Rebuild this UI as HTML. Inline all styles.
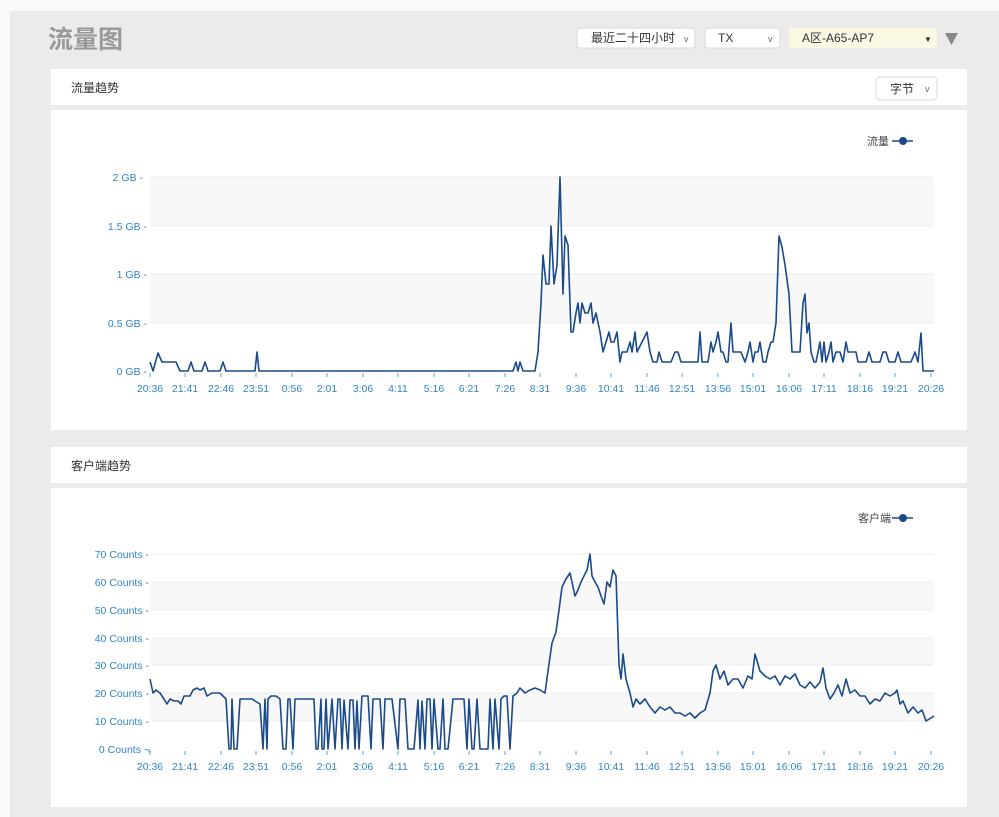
<!DOCTYPE html>
<html><head><meta charset="utf-8"><style>
body{margin:0;width:999px;height:817px;overflow:hidden;background:#fafafa;font-family:"Liberation Sans","Noto Sans CJK SC",sans-serif}
svg{position:absolute;left:0;top:0}
</style></head><body>
<svg width="999" height="817" viewBox="0 0 999 817" xmlns="http://www.w3.org/2000/svg" font-family="Liberation Sans, Noto Sans CJK SC, sans-serif">
<rect x="0" y="0" width="999" height="817" fill="#fafafa"/>
<rect x="10" y="11" width="989" height="806" fill="#ebebeb"/>
<text x="48" y="48" font-size="25" fill="#999" font-weight="bold">流量图</text>
<!-- selects -->
<rect x="577" y="28" width="118" height="20" rx="3" fill="#fff" stroke="#d8d8d8"/>
<text x="591" y="42" font-size="12" fill="#333">最近二十四小时</text><text x="684" y="42" font-size="9" fill="#666">v</text>
<rect x="705" y="28" width="75" height="20" rx="3" fill="#fff" stroke="#d8d8d8"/>
<text x="718" y="42" font-size="12" fill="#333">TX</text><text x="768" y="42" font-size="9" fill="#666">v</text>
<rect x="789" y="28" width="148" height="20" rx="2" fill="#fbf8e4"/>
<text x="802" y="42" font-size="12" fill="#333">A区-A65-AP7</text><text x="924" y="42" font-size="8" fill="#333">▼</text>
<polygon points="945,33 958,33 951.5,45" fill="#888"/>
<!-- card 1 -->
<rect x="51" y="69" width="916" height="36" fill="#fff"/>
<text x="71" y="92" font-size="12" fill="#333">流量趋势</text>
<rect x="876" y="77" width="61" height="23" rx="4" fill="#fff" stroke="#d8d8d8"/>
<text x="890" y="93" font-size="12" fill="#333">字节</text><text x="925" y="92" font-size="9" fill="#666">v</text>
<rect x="51" y="110" width="916" height="320" fill="#fff"/>
<text x="867" y="145" font-size="11" fill="#444">流量</text>
<line x1="892" y1="141" x2="913" y2="141" stroke="#1b4a8a" stroke-width="1.5"/><circle cx="903" cy="141" r="4" fill="#1b4a8a"/>
<rect x="150" y="177" width="784" height="49" fill="#f8f8f8"/>
<rect x="150" y="274" width="784" height="49" fill="#f8f8f8"/>
<g stroke="#ececec"><line x1="150" y1="177" x2="934" y2="177"/><line x1="150" y1="226" x2="934" y2="226"/><line x1="150" y1="274" x2="934" y2="274"/><line x1="150" y1="323" x2="934" y2="323"/></g>
<g font-size="10.5" fill="#2f86c8" text-anchor="end">
<text x="143" y="181">2 GB -</text><text x="147" y="230">1.5 GB -</text><text x="147" y="278">1 GB -</text><text x="147" y="327">0.5 GB -</text><text x="147" y="375">0 GB -</text></g>
<g id="xt1" font-size="10.5" fill="#2f86c8" text-anchor="middle">
<text x="150" y="392">20:36</text><text x="185" y="392">21:41</text><text x="221" y="392">22:46</text><text x="256" y="392">23:51</text><text x="292" y="392">0:56</text><text x="327" y="392">2:01</text><text x="363" y="392">3:06</text><text x="398" y="392">4:11</text><text x="434" y="392">5:16</text><text x="469" y="392">6:21</text><text x="505" y="392">7:26</text><text x="540" y="392">8:31</text><text x="576" y="392">9:36</text><text x="611" y="392">10:41</text><text x="647" y="392">11:46</text><text x="682" y="392">12:51</text><text x="718" y="392">13:56</text><text x="753" y="392">15:01</text><text x="789" y="392">16:06</text><text x="824" y="392">17:11</text><text x="860" y="392">18:16</text><text x="895" y="392">19:21</text><text x="931" y="392">20:26</text></g>
<g stroke="#5aa3d8"><line x1="150" y1="373" x2="150" y2="377"/><line x1="185" y1="373" x2="185" y2="377"/><line x1="221" y1="373" x2="221" y2="377"/><line x1="256" y1="373" x2="256" y2="377"/><line x1="292" y1="373" x2="292" y2="377"/><line x1="327" y1="373" x2="327" y2="377"/><line x1="363" y1="373" x2="363" y2="377"/><line x1="398" y1="373" x2="398" y2="377"/><line x1="434" y1="373" x2="434" y2="377"/><line x1="469" y1="373" x2="469" y2="377"/><line x1="505" y1="373" x2="505" y2="377"/><line x1="540" y1="373" x2="540" y2="377"/><line x1="576" y1="373" x2="576" y2="377"/><line x1="611" y1="373" x2="611" y2="377"/><line x1="647" y1="373" x2="647" y2="377"/><line x1="682" y1="373" x2="682" y2="377"/><line x1="718" y1="373" x2="718" y2="377"/><line x1="753" y1="373" x2="753" y2="377"/><line x1="789" y1="373" x2="789" y2="377"/><line x1="824" y1="373" x2="824" y2="377"/><line x1="860" y1="373" x2="860" y2="377"/><line x1="895" y1="373" x2="895" y2="377"/><line x1="931" y1="373" x2="931" y2="377"/></g>
<polyline fill="none" stroke="#1b4a8a" stroke-width="1.6" stroke-linejoin="round" points="150,362 153,371 158,353 162,362 176,362 180,371 188,371 191,362 194,371 202,371 205,362 208,371 220,371 223,362 226,371 255,371 257,352 259,371 513,371 516,362 518,371 520,362 523,371 535,371 538,352 541,303 543,255 546,284 549,284 551,226 554,284 557,265 560,177 563,294 565,236 568,245 571,332 573,332 576,313 578,303 580,323 582,303 585,313 588,313 591,303 593,323 596,313 600,332 603,352 606,342 609,332 611,342 614,342 617,332 620,362 622,352 627,352 630,342 632,352 635,332 637,352 642,342 647,332 650,352 653,362 657,362 659,352 662,362 671,362 675,352 678,352 681,362 698,362 700,332 702,362 708,362 711,342 713,352 716,342 718,332 721,352 723,352 726,362 728,362 731,323 733,352 741,352 745,362 748,352 750,342 753,362 755,352 758,352 760,342 763,362 766,362 768,352 771,342 773,342 776,323 779,236 782,247 785,265 789,294 792,352 800,352 803,303 805,294 807,333 809,323 811,352 814,362 816,362 820,342 822,362 824,342 826,362 829,352 831,342 833,362 836,352 840,352 843,362 846,342 848,352 856,352 858,362 866,362 869,352 872,362 880,362 883,352 886,352 889,362 895,362 898,352 901,362 911,362 915,352 918,362 921,333 923,371 934,371"/>
<!-- card 2 -->
<rect x="51" y="447" width="916" height="36" fill="#fff"/>
<text x="71" y="470" font-size="12" fill="#333">客户端趋势</text>
<rect x="51" y="488" width="916" height="319" fill="#fff"/>
<text x="858" y="522" font-size="11" fill="#444">客户端</text>
<line x1="892" y1="518" x2="913" y2="518" stroke="#1b4a8a" stroke-width="1.5"/><circle cx="903" cy="518" r="4" fill="#1b4a8a"/>
<rect x="150" y="582" width="784" height="28" fill="#f8f8f8"/>
<rect x="150" y="638" width="784" height="27" fill="#f8f8f8"/>
<rect x="150" y="693" width="784" height="28" fill="#f8f8f8"/>
<g stroke="#ececec"><line x1="150" y1="554" x2="934" y2="554"/><line x1="150" y1="582" x2="934" y2="582"/><line x1="150" y1="610" x2="934" y2="610"/><line x1="150" y1="638" x2="934" y2="638"/><line x1="150" y1="665" x2="934" y2="665"/><line x1="150" y1="693" x2="934" y2="693"/><line x1="150" y1="721" x2="934" y2="721"/></g>
<g font-size="10.5" fill="#2f86c8" text-anchor="end">
<text x="149" y="558">70 Counts -</text><text x="149" y="586">60 Counts -</text><text x="149" y="614">50 Counts -</text><text x="149" y="642">40 Counts -</text><text x="149" y="669">30 Counts -</text><text x="149" y="697">20 Counts -</text><text x="149" y="725">10 Counts -</text><text x="150" y="753">0 Counts ¬</text></g>
<g font-size="10.5" fill="#2f86c8" text-anchor="middle">
<text x="150" y="770">20:36</text><text x="185" y="770">21:41</text><text x="221" y="770">22:46</text><text x="256" y="770">23:51</text><text x="292" y="770">0:56</text><text x="327" y="770">2:01</text><text x="363" y="770">3:06</text><text x="398" y="770">4:11</text><text x="434" y="770">5:16</text><text x="469" y="770">6:21</text><text x="505" y="770">7:26</text><text x="540" y="770">8:31</text><text x="576" y="770">9:36</text><text x="611" y="770">10:41</text><text x="647" y="770">11:46</text><text x="682" y="770">12:51</text><text x="718" y="770">13:56</text><text x="753" y="770">15:01</text><text x="789" y="770">16:06</text><text x="824" y="770">17:11</text><text x="860" y="770">18:16</text><text x="895" y="770">19:21</text><text x="931" y="770">20:26</text></g>
<g stroke="#5aa3d8" transform="translate(0,378)"><line x1="150" y1="373" x2="150" y2="377"/><line x1="185" y1="373" x2="185" y2="377"/><line x1="221" y1="373" x2="221" y2="377"/><line x1="256" y1="373" x2="256" y2="377"/><line x1="292" y1="373" x2="292" y2="377"/><line x1="327" y1="373" x2="327" y2="377"/><line x1="363" y1="373" x2="363" y2="377"/><line x1="398" y1="373" x2="398" y2="377"/><line x1="434" y1="373" x2="434" y2="377"/><line x1="469" y1="373" x2="469" y2="377"/><line x1="505" y1="373" x2="505" y2="377"/><line x1="540" y1="373" x2="540" y2="377"/><line x1="576" y1="373" x2="576" y2="377"/><line x1="611" y1="373" x2="611" y2="377"/><line x1="647" y1="373" x2="647" y2="377"/><line x1="682" y1="373" x2="682" y2="377"/><line x1="718" y1="373" x2="718" y2="377"/><line x1="753" y1="373" x2="753" y2="377"/><line x1="789" y1="373" x2="789" y2="377"/><line x1="824" y1="373" x2="824" y2="377"/><line x1="860" y1="373" x2="860" y2="377"/><line x1="895" y1="373" x2="895" y2="377"/><line x1="931" y1="373" x2="931" y2="377"/></g>
<polyline fill="none" stroke="#1b4a8a" stroke-width="1.6" stroke-linejoin="round" points="150,679 153,693 156,690 160,693 164,699 167,704 170,699 174,701 178,701 181,704 184,696 190,696 193,690 197,688 200,690 204,688 207,696 212,693 220,693 226,699 229,749 231,749 232,699 234,749 237,749 240,699 252,699 255,701 260,704 263,749 265,699 267,749 268,699 271,696 276,696 280,699 283,749 286,749 288,699 290,699 293,749 295,699 314,699 316,749 318,749 321,699 322,749 324,749 326,699 328,749 332,699 335,749 338,699 340,699 342,749 344,700 348,749 350,700 353,700 355,749 357,701 359,749 362,696 368,696 371,749 373,699 380,699 383,749 385,699 392,699 398,749 400,699 405,699 408,749 414,749 418,700 420,749 422,701 425,749 427,699 430,699 432,749 434,699 438,749 440,749 443,699 445,749 448,749 453,699 464,699 467,749 469,699 472,749 474,749 477,699 480,749 488,749 490,699 493,749 495,699 499,749 501,699 504,696 507,696 510,749 513,696 517,693 520,688 525,693 530,690 535,688 540,690 545,693 548,671 552,643 556,632 559,610 562,587 566,579 570,573 572,582 575,596 578,590 581,582 584,576 587,570 590,554 592,576 595,582 598,587 601,596 604,604 607,582 610,587 613,570 616,576 619,665 621,679 623,654 626,679 630,693 633,707 636,699 640,704 645,699 650,707 655,713 660,707 665,710 670,707 675,713 680,713 685,716 690,713 695,718 700,713 705,710 710,693 713,671 716,665 720,679 724,671 728,685 733,679 738,679 743,688 748,676 752,679 755,654 760,671 765,676 770,679 775,676 780,685 785,676 790,679 795,674 800,685 805,688 810,682 815,688 820,682 823,668 826,688 830,699 834,693 838,685 842,696 846,679 850,693 855,690 860,696 865,696 870,704 875,699 880,701 885,693 890,696 895,693 897,690 900,704 903,701 908,713 913,707 918,713 922,710 926,721 931,718 934,716"/>
</svg>
</body></html>
